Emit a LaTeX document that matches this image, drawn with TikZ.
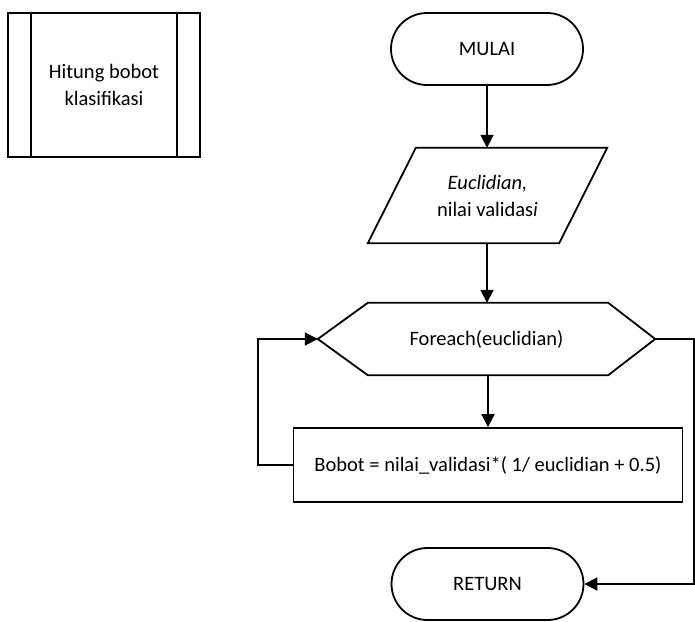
\documentclass[tikz,border=0pt]{standalone}
\usepackage{fontspec}
\setmainfont{Carlito}
\usetikzlibrary{shapes.misc,arrows.meta}
\begin{document}
\begin{tikzpicture}[x=1pt,y=-1pt,
  every node/.style={font=\fontsize{20.5}{27}\selectfont, align=center, inner sep=0pt},
  line/.style={line width=1.8pt, line join=miter},
  flow/.style={line, -{Triangle[length=13pt,width=13pt]}},
  terminal/.style={draw, line width=1.8pt, fill=white, rounded rectangle,
    minimum width=192pt, minimum height=72pt},
  procbox/.style={draw, line width=1.8pt, fill=white, rectangle,
    minimum width=389pt, minimum height=74pt},
  frame/.style={rectangle, minimum width=#1}]
\useasboundingbox[fill=white] (0,0) rectangle (695,621);

% predefined-process header box
\node[draw, line width=1.8pt, frame=192pt, minimum height=144pt] (sub) at (104,85)
  {Hitung bobot\\klasifikasi};
\draw[line] ([xshift=24pt]sub.north west) -- ([xshift=24pt]sub.south west);
\draw[line] ([xshift=-24pt]sub.north east) -- ([xshift=-24pt]sub.south east);

% start terminal
\node[terminal] (start) at (487,49) {MULAI};

% input parallelogram
\node[frame=239pt, minimum height=95pt] (inp) at (487.5,195.5) {};
\draw[line, fill=white]
  ([xshift=48pt]inp.north west) -- (inp.north east)
  -- ([xshift=-48pt]inp.south east) -- (inp.south west) -- cycle;
\node at (inp) {\textit{Euclidian,}\\nilai validas\textit{i}};

% loop hexagon
\node[frame=337pt, minimum height=72pt] (hex) at (486.5,339) {};
\draw[line, fill=white]
  (hex.west) -- ([xshift=50pt]hex.north west) -- ([xshift=-47pt]hex.north east)
  -- (hex.east) -- ([xshift=-47pt]hex.south east) -- ([xshift=50pt]hex.south west)
  -- cycle;
\node at (hex) {Foreach(euclidian)};

% process box
\node[procbox] (calc) at (488,465) {Bobot = nilai\_validasi*( 1/ euclidian + 0.5)};

% return terminal
\node[terminal] (ret) at (487.5,584) {RETURN};

% helper coordinates for the routed connectors
\coordinate (lp) at (258,400);
\coordinate (rp) at (694,400);

% connectors
\draw[flow] (start.south) -- (inp.north -| start.south);
\draw[flow] (inp.south -| start.south) -- (hex.north -| start.south);
\draw[flow] (hex.south -| calc.north) -- (calc.north);
\draw[flow] (calc.west) -- (calc.west -| lp) -- (hex.west -| lp) -- (hex.west);
\draw[flow] (hex.east) -- (hex.east -| rp) -- (ret.east -| rp) -- (ret.east);
\end{tikzpicture}
\end{document}
